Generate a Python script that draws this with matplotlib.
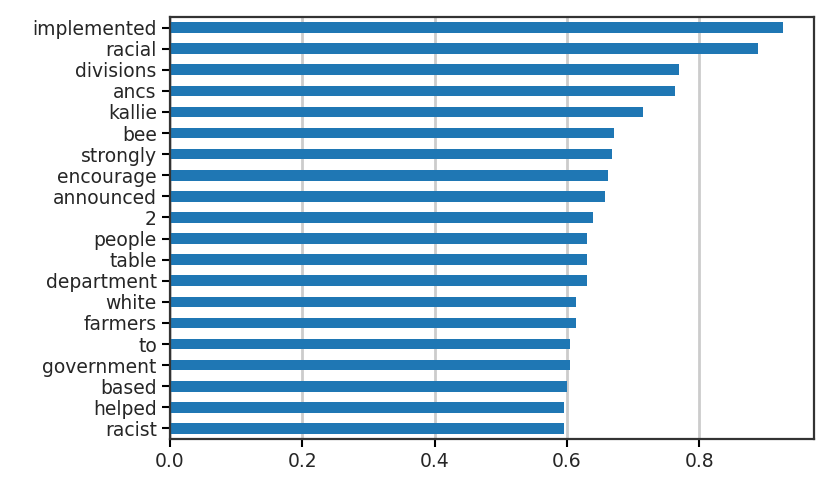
import matplotlib
matplotlib.use("Agg")
import matplotlib.pyplot as plt

words = ["implemented", "racial", "divisions", "ancs", "kallie", "bee", "strongly",
         "encourage", "announced", "2", "people", "table", "department", "white",
         "farmers", "to", "government", "based", "helped", "racist"]
scores = [0.927, 0.889, 0.770, 0.764, 0.715, 0.671, 0.668, 0.662, 0.657, 0.639,
          0.630, 0.630, 0.630, 0.613, 0.613, 0.605, 0.605, 0.600, 0.596, 0.596]

fig = plt.figure(figsize=(8.31, 4.90), dpi=100)
ax = fig.add_axes([170/831, 1-439/490, (814-170)/831, (439-17)/490])

ypos = list(range(len(words)))[::-1]
ax.barh(ypos, scores, height=0.5, color="#1f77b4", zorder=2)
ax.set_yticks(ypos)
ax.set_yticklabels(words, fontsize=13.5, color="#262626")
ax.set_ylim(-0.5, len(words) - 0.5)
ax.set_xlim(0, max(scores) * 1.05)
ax.set_xticks([0.0, 0.2, 0.4, 0.6, 0.8])
ax.set_xticklabels(["0.0", "0.2", "0.4", "0.6", "0.8"], fontsize=13.5, color="#262626")
ax.xaxis.grid(True, color="#cccccc", linewidth=2, zorder=0)
ax.set_axisbelow(True)
for s in ax.spines.values():
    s.set_linewidth(1.6)
    s.set_color("#333333")
ax.tick_params(width=1.5, length=6)

fig.savefig("out.png", dpi=100)
